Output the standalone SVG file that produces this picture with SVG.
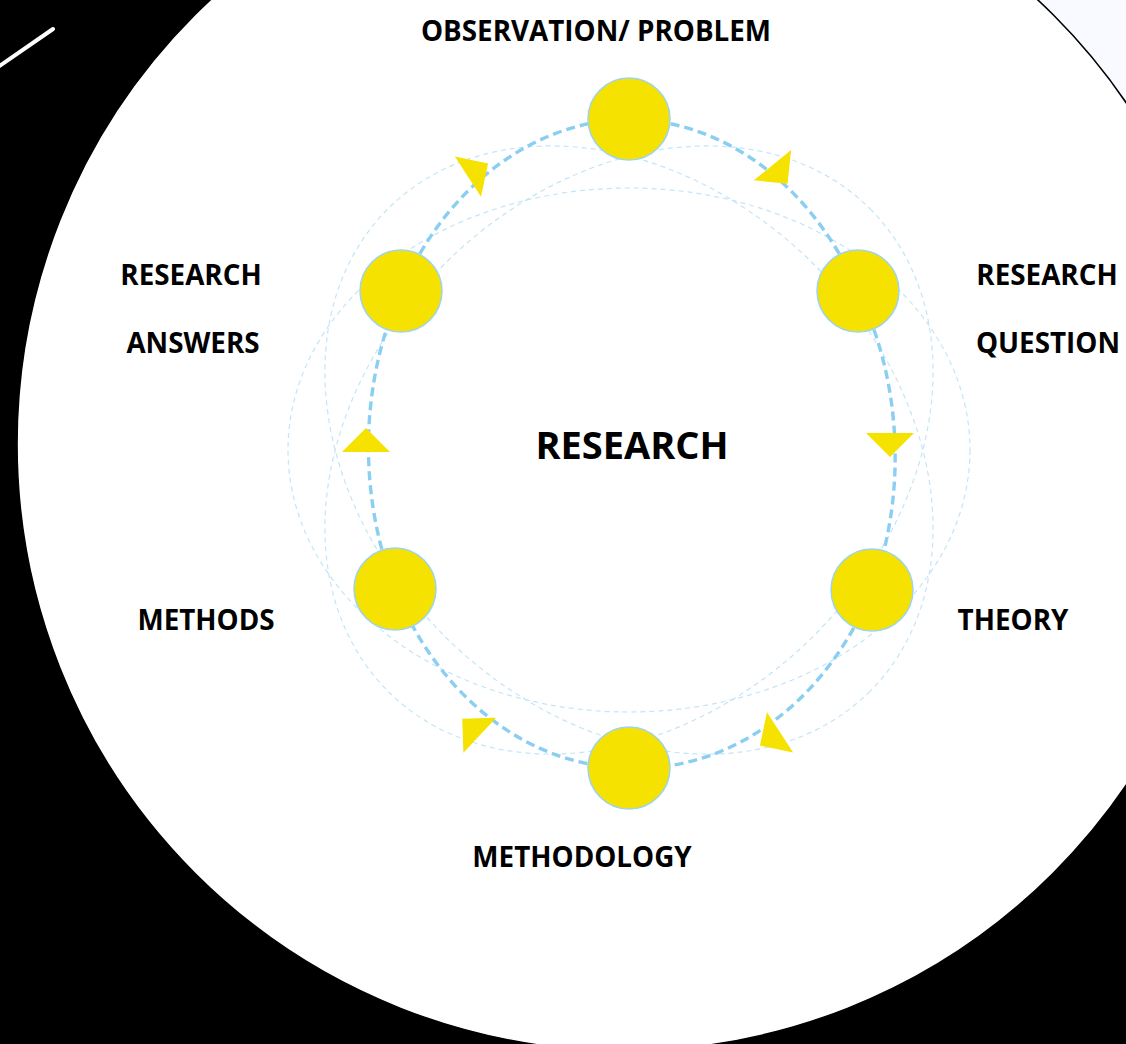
<svg xmlns="http://www.w3.org/2000/svg" xmlns:xlink="http://www.w3.org/1999/xlink" width="1126" height="1044" viewBox="0 0 1126 1044">
<style>
.lbl{font-family:"Open Sans","Noto Sans","Liberation Sans",sans-serif;font-weight:700;font-size:27.8px;fill:#000;text-anchor:middle}
.big{font-size:38px}
.node{fill:#F5E200;stroke:#9DD3EF;stroke-width:1.5}
.faint{fill:none;stroke:#C4E5F7;stroke-width:1.2;stroke-dasharray:5 4}
.main{fill:none;stroke:#8ACFF2;stroke-width:3.4;stroke-dasharray:9 5}
.arrow{fill:#F5E200}
</style>
<defs>
<path id="tri" d="M12,0 L-12,-24 L-12,24 Z"/>
</defs>
<g id="background">
<rect x="0" y="0" width="1126" height="1044" fill="#000"/>
<rect x="940" y="0" width="186" height="160" fill="#F8FAFF"/>
<circle cx="624" cy="444" r="607" fill="#fff" stroke="#000" stroke-width="1.6"/>
<line x1="-2" y1="67" x2="53" y2="29" stroke="#fff" stroke-width="4" stroke-linecap="round"/>
</g>
<g id="orbits">
<ellipse class="faint" cx="629" cy="450" rx="341" ry="262"/>
<ellipse class="faint" cx="629" cy="450" rx="341" ry="262" transform="rotate(45 629 450)"/>
<ellipse class="faint" cx="629" cy="450" rx="341" ry="262" transform="rotate(-45 629 450)"/>
</g>
<g id="connectors">
<path class="main" d="M629,119 A263,324 0 0 1 858,291"/>
<path class="main" d="M858,291 A263,324 0 0 1 872,590"/>
<path class="main" d="M872,590 A263,324 0 0 1 629,768"/>
<path class="main" d="M629,768 A263,324 0 0 1 395,589"/>
<path class="main" d="M395,589 A263,324 0 0 1 401,291"/>
<path class="main" d="M401,291 A263,324 0 0 1 629,119"/>
<use xlink:href="#tri" class="arrow" transform="translate(780,174.5) rotate(51)"/>
<use xlink:href="#tri" class="arrow" transform="translate(890,445) rotate(90)"/>
<use xlink:href="#tri" class="arrow" transform="translate(770,739) rotate(147)"/>
<use xlink:href="#tri" class="arrow" transform="translate(471,727) rotate(-137)"/>
<use xlink:href="#tri" class="arrow" transform="translate(366,440) rotate(-90)"/>
<use xlink:href="#tri" class="arrow" transform="translate(478,170) rotate(-33)"/>
</g>
<g id="node-observation">
<circle class="node" cx="629" cy="119" r="41"/>
<text class="lbl" x="596" y="41">OBSERVATION/ PROBLEM</text>
</g>
<g id="node-question">
<circle class="node" cx="858" cy="291" r="41"/>
<text class="lbl" x="1047" y="285">RESEARCH</text>
<text class="lbl" x="1048" y="353">QUESTION</text>
</g>
<g id="node-theory">
<circle class="node" cx="872" cy="590" r="41"/>
<text class="lbl" x="1013" y="630">THEORY</text>
</g>
<g id="node-methodology">
<circle class="node" cx="629" cy="768" r="41"/>
<text class="lbl" x="582" y="867">METHODOLOGY</text>
</g>
<g id="node-methods">
<circle class="node" cx="395" cy="589" r="41"/>
<text class="lbl" x="206" y="630">METHODS</text>
</g>
<g id="node-answers">
<circle class="node" cx="401" cy="291" r="41"/>
<text class="lbl" x="191" y="285">RESEARCH</text>
<text class="lbl" x="193" y="353">ANSWERS</text>
</g>
<g id="center">
<text class="lbl big" x="632" y="459">RESEARCH</text>
</g>
</svg>
